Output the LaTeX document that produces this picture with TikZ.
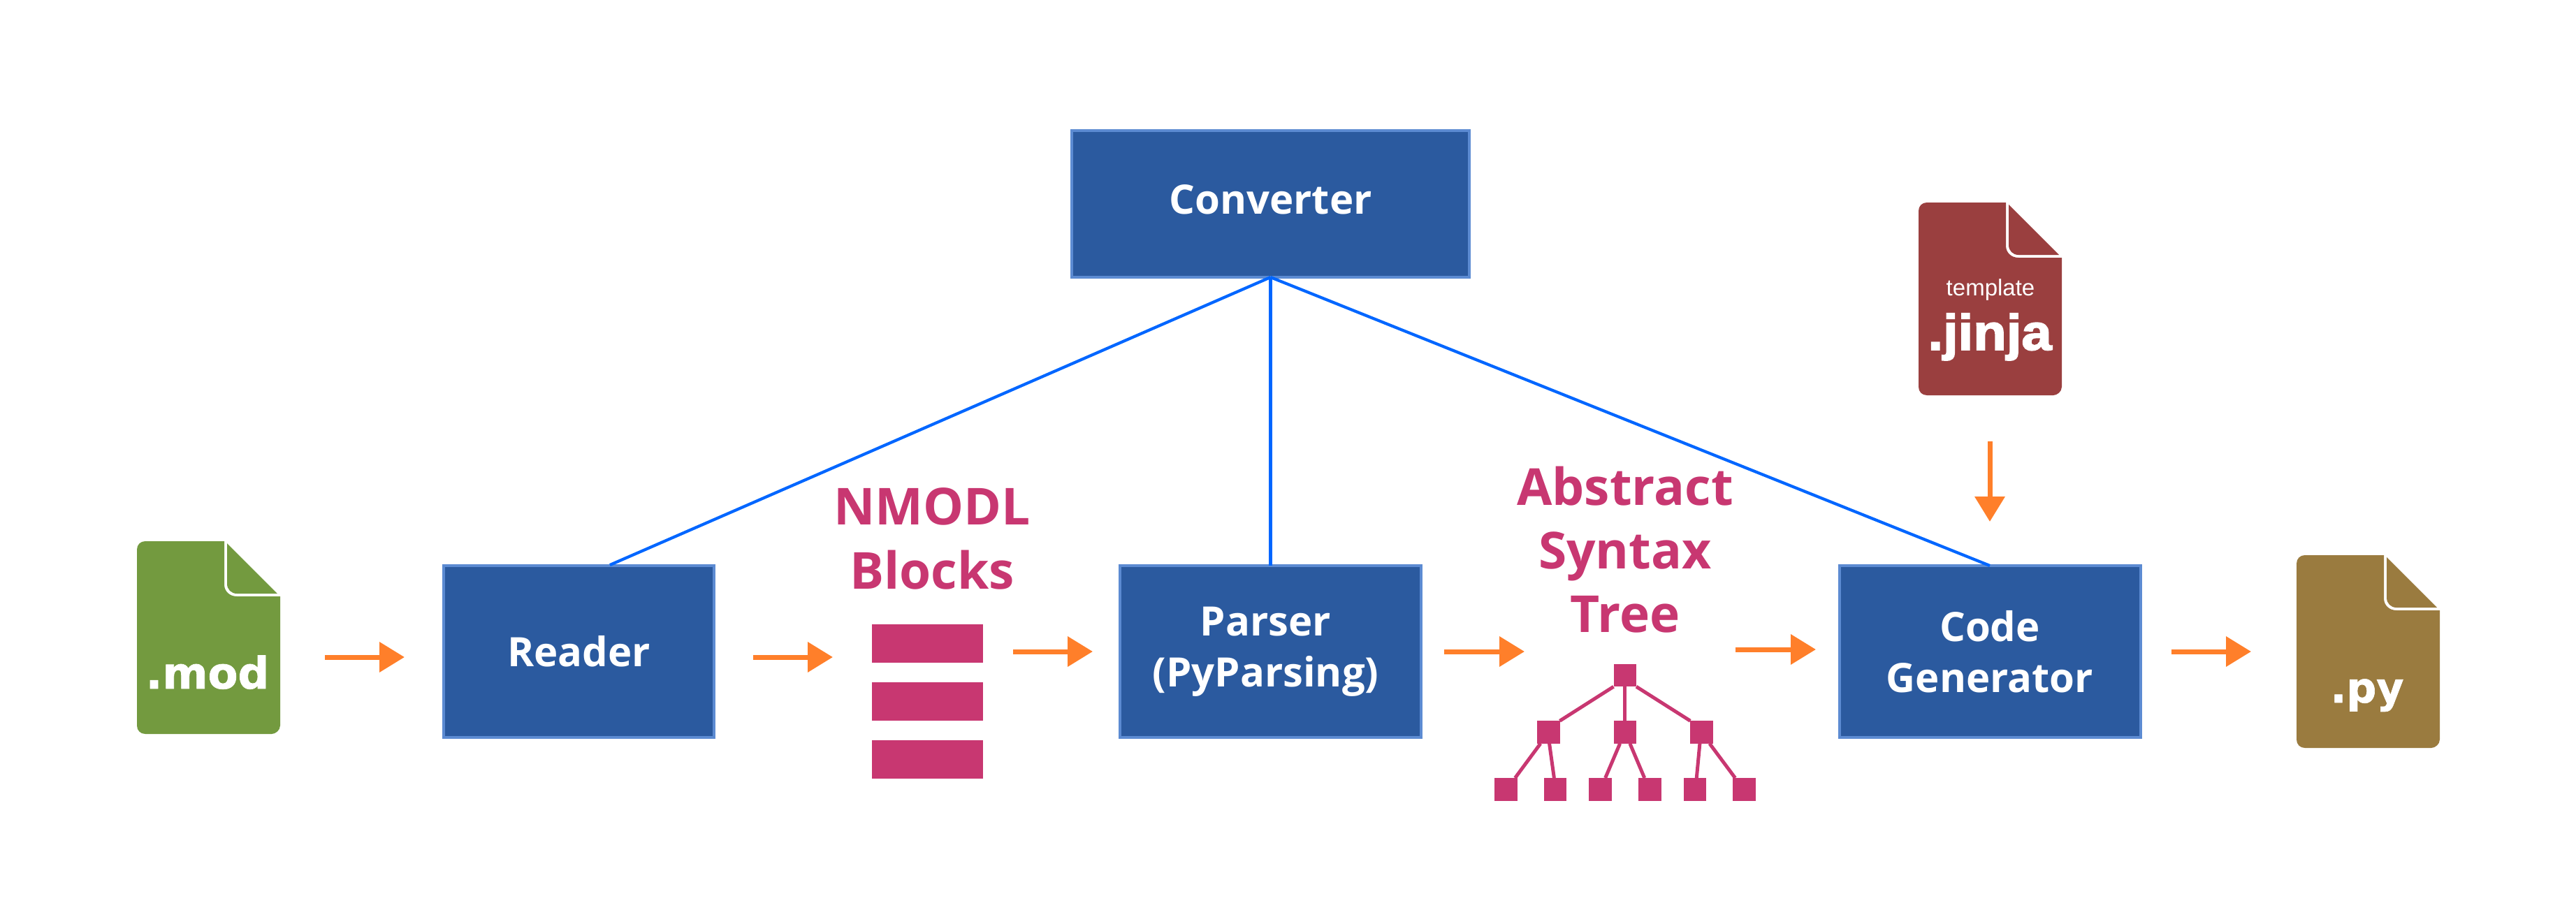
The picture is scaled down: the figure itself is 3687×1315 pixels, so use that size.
\documentclass[tikz,border=0pt]{standalone}
\usepackage{fontspec}
\usetikzlibrary{arrows.meta,calc}
\newfontfamily\opensansfont{Open Sans}
\newfontfamily\dejavufont[FakeBold=1.2]{DejaVu Sans Bold}
\newfontfamily\arialfont{Liberation Sans}
\newfontfamily\arialheavy[FakeBold=2.5,FakeStretch=1.08]{Liberation Sans Bold}
\definecolor{boxfill}{HTML}{2B5A9F}
\definecolor{boxedge}{HTML}{5C8BD2}
\definecolor{linkblue}{HTML}{0066FF}
\definecolor{flowor}{HTML}{FF7F2A}
\definecolor{rose}{HTML}{C83771}
\definecolor{modgreen}{HTML}{739A3F}
\definecolor{jinjared}{HTML}{9A3F3F}
\definecolor{pybrown}{HTML}{9A7B3F}
\tikzset{
  procbox/.style={draw=boxedge,fill=boxfill,line width=4pt,inner sep=0pt,outer sep=0pt,
    minimum width=#1,minimum height=246pt,text=white,align=center,
    font=\opensansfont\bfseries\fontsize{58}{73}\selectfont},
  link/.style={draw=linkblue,line width=4.2pt},
  flow/.style={draw=flowor,line width=7pt,-{Triangle[length=36pt,width=42pt]}},
  rosetitle/.style={text=rose,align=center,inner sep=0pt,
    font=\opensansfont\bfseries\fontsize{73}{91}\selectfont},
  blockbar/.style={fill=rose,inner sep=0pt,outer sep=0pt,minimum width=159pt,minimum height=55pt},
  treebox/.style={fill=rose,inner sep=0pt,outer sep=0pt,minimum size=32.5pt},
  treelink/.style={draw=rose,line width=5pt},
  filetag/.style={text=white,inner sep=0pt,anchor=base},
}
% #1 name, #2 left, #3 top, #4 colour
\newcommand{\docfile}[4]{%
  \begin{scope}[shift={(#2,#3)}]
    \coordinate (#1) at (102.5,138);
    \fill[#4] (0,12) .. controls (0,5) and (5,0) .. (12,0) -- (125,0) -- (125,62)
      .. controls (125,72) and (133,79) .. (143,79) -- (205,79) -- (205,264)
      .. controls (205,271) and (198,276) .. (193,276) -- (12,276)
      .. controls (5,276) and (0,271) .. (0,264) -- cycle;
    \fill[#4] (129,3) -- (201,75) -- (143,75) .. controls (135,75) and (129,69) .. (129,61) -- cycle;
  \end{scope}}
\newcommand{\treeedge}[4]{%
  \draw[treelink] ($(#1.south west)!#2!(#1.south east)$) -- ($(#3.north west)!#4!(#3.north east)$);}
\begin{document}
\begin{tikzpicture}[x=1pt,y=-1pt]
\useasboundingbox (0,0) rectangle (3687,1315);
\fill[white] (0,0) rectangle (3687,1315);

% process boxes
\node[procbox=569pt,minimum height=210pt,text depth=14pt] (converter) at (1818.5,292) {Converter};
\node[procbox=387pt] (reader) at (828.5,933) {Reader};
\node[procbox=431pt] (parser) at (1818.5,933) {Parser\hspace*{14pt}\\(PyParsing)\hspace*{14pt}};
\node[procbox=431pt] (codegen) at (2848,933) {Code\\Generator};

% converter links
\coordinate (readertop) at (873,809);
\draw[link] (converter.south) -- (readertop);
\draw[link] (converter.south) -- (parser.north);
\draw[link] (converter.south) -- (codegen.north);

% files
\docfile{modfile}{196}{775}{modgreen}
\docfile{jinjafile}{2746}{290}{jinjared}
\docfile{pyfile}{3287}{795}{pybrown}
\node[filetag,font=\dejavufont\fontsize{62.5}{62.5}\selectfont] (modtag) at (297,986) {.mod};
\node[filetag,font=\dejavufont\fontsize{60}{60}\selectfont] (pytag) at (3388,1006) {.py};
\node[filetag,font=\arialfont\fontsize{33}{33}\selectfont] (tpltag) at (2849,423) {template};
\node[filetag,font=\arialheavy\fontsize{72}{72}\selectfont] (jinjatag) at (2848,501) {.jinja};

% NMODL blocks
\node[rosetitle,font=\opensansfont\bfseries\fontsize{73}{92}\selectfont] (nmodl) at (1334,771) {NMODL\\Blocks};
\node[blockbar] (bar1) at (1327.5,921.5) {};
\node[blockbar] (bar2) at (1327.5,1004.5) {};
\node[blockbar] (bar3) at (1327.5,1087.5) {};

% abstract syntax tree
\node[rosetitle] (ast) at (2326,787) {Abstract\\Syntax\\Tree};
\node[treebox] (root) at (2325.75,967) {};
\node[treebox] (mid1) at (2216.25,1048.5) {};
\node[treebox] (mid2) at (2325.75,1048.5) {};
\node[treebox] (mid3) at (2435.5,1048.5) {};
\node[treebox] (leaf1) at (2155.5,1130.25) {};
\node[treebox] (leaf2) at (2226,1130.25) {};
\node[treebox] (leaf3) at (2290.5,1130.25) {};
\node[treebox] (leaf4) at (2361.5,1130.25) {};
\node[treebox] (leaf5) at (2426,1130.25) {};
\node[treebox] (leaf6) at (2496.5,1130.25) {};
\draw[treelink] (root.south west) -- (mid1.north east);
\draw[treelink] (root.south) -- (mid2.north);
\draw[treelink] (root.south east) -- (mid3.north west);
\treeedge{mid1}{.15}{leaf1}{.9}
\treeedge{mid1}{.54}{leaf2}{.45}
\treeedge{mid2}{.28}{leaf3}{.72}
\treeedge{mid2}{.72}{leaf4}{.26}
\treeedge{mid3}{.42}{leaf5}{.57}
\treeedge{mid3}{.85}{leaf6}{.1}

% flow arrows
\coordinate (a1s) at (465,941);  \coordinate (a1e) at (579,941);
\coordinate (a2s) at (1078,941); \coordinate (a2e) at (1192,941);
\coordinate (a3s) at (1450,933); \coordinate (a3e) at (1564,933);
\coordinate (a4s) at (2067,933); \coordinate (a4e) at (2182,933);
\coordinate (a5s) at (2484,930); \coordinate (a5e) at (2599,930);
\coordinate (a6s) at (3108,933); \coordinate (a6e) at (3222,933);
\coordinate (a7s) at (2848,632); \coordinate (a7e) at (2848,747);
\draw[flow] (a1s) -- (a1e);
\draw[flow] (a2s) -- (a2e);
\draw[flow] (a3s) -- (a3e);
\draw[flow] (a4s) -- (a4e);
\draw[flow] (a5s) -- (a5e);
\draw[flow] (a6s) -- (a6e);
\draw[flow] (a7s) -- (a7e);
\end{tikzpicture}
\end{document}
